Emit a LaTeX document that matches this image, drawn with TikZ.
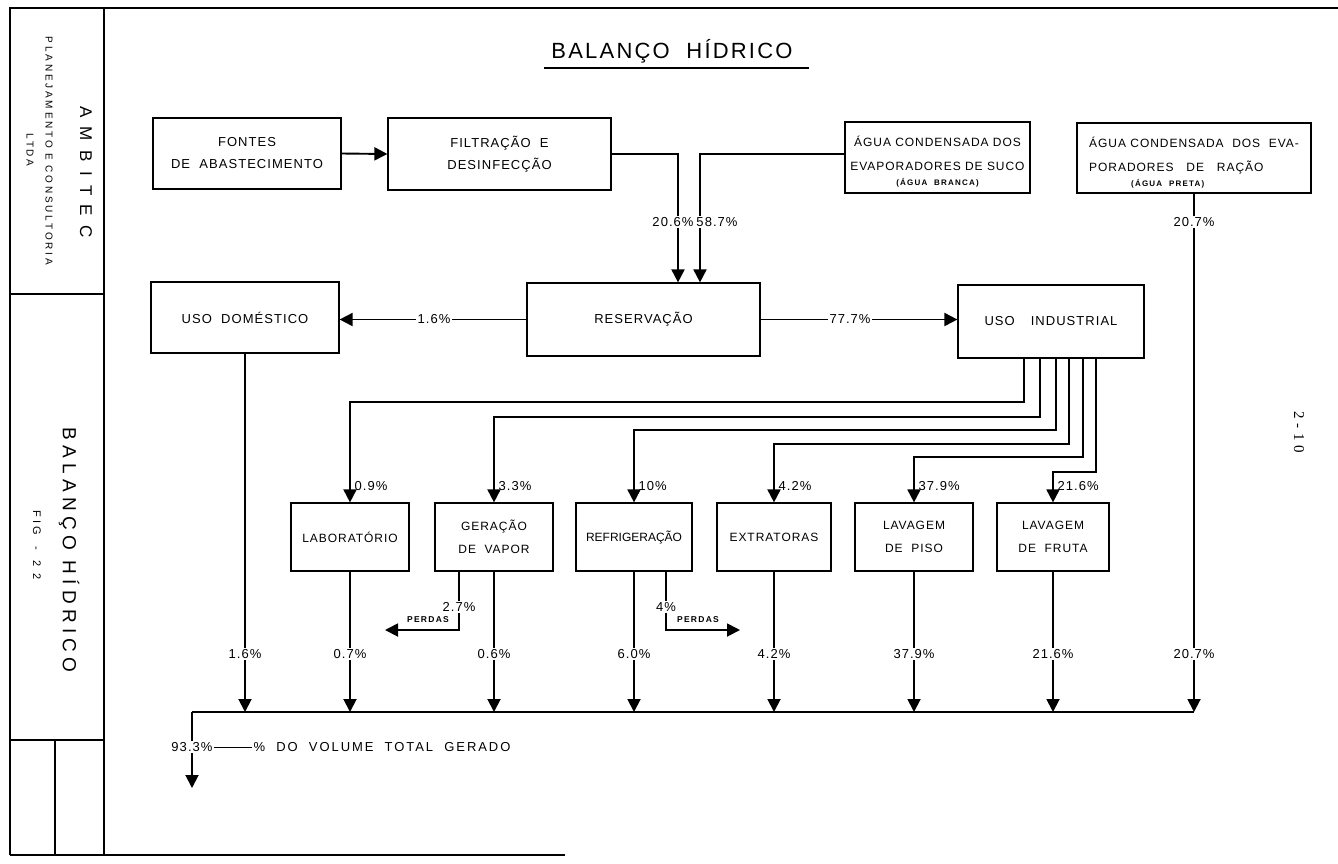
\documentclass[tikz,border=0pt]{standalone}
\usepackage{fontspec}
\setmainfont{Liberation Sans}
\newfontfamily\lsA{Liberation Sans}[LetterSpace=8]
\newfontfamily\lsB{Liberation Sans}[LetterSpace=15]
\newfontfamily\lsC{Liberation Sans}[LetterSpace=28]
\newfontfamily\lsD{Liberation Sans}[LetterSpace=55]
\newfontfamily\lsT{Liberation Sans}[LetterSpace=10]
\newfontfamily\serifF{Liberation Serif}[LetterSpace=30]
\usetikzlibrary{arrows.meta}
\begin{document}
\begin{tikzpicture}[x=1pt,y=-1pt,
  box/.style={draw,line width=1.2pt,inner sep=0pt,align=center,font=\lsA\fontsize{13}{22}\selectfont},
  sbox/.style={box,font=\lsA\fontsize{12}{24}\selectfont},
  lbox/.style={box,minimum height=68,font=\lsA\fontsize{12}{23}\selectfont},
  ln/.style={line width=1.9pt},
  flow/.style={ln,-{Triangle[width=13pt,length=13pt]}},
  pct/.style={font=\lsA\fontsize{13}{15}\selectfont,inner sep=1.5pt},
  pctw/.style={pct,fill=white},
  perd/.style={font=\lsB\bfseries\fontsize{8.5}{9}\selectfont,inner sep=0pt},
  frame/.style={line width=1.4pt}]
\fill[white] (0,0) rectangle (1338,863);
\useasboundingbox (0,0) rectangle (1338,863);

% frame and title block
\draw[frame] (10,855) -- (10,8) -- (1338,8);
\draw[frame] (104,8) -- (104,855);
\draw[frame] (10,294) -- (104,294);
\draw[frame] (10,740) -- (104,740);
\draw[frame] (55,740) -- (55,855);
\draw[frame] (10,855) -- (565,855);
\node[rotate=-90,font=\lsD\fontsize{17}{17}\selectfont] (amb) at (86,172) {AMBITEC};
\node[rotate=-90,font=\lsC\fontsize{10}{10}\selectfont] (plan) at (49,151) {PLANEJAMENTO E CONSULTORIA};
\node[rotate=-90,font=\lsC\fontsize{10}{10}\selectfont] (ltda) at (30,150) {LTDA};
\node[rotate=-90,font=\lsC\fontsize{19}{19}\selectfont] (bh) at (69,550) {BALANÇO HÍDRICO};
\node[rotate=-90,font=\lsC\fontsize{11}{11}\selectfont] (fig) at (37,545) {FIG\quad -\quad 2 2};
\node[rotate=-90,font=\serifF\fontsize{15}{15}\selectfont] (pg) at (1299,432) {2-10};

% title
\node[font=\lsT\fontsize{22}{22}\selectfont] (title) at (672,51) {BALANÇO\ \ HÍDRICO};
\draw[ln] (544,68) -- (809,68);

% boxes
\node[box,minimum width=188,minimum height=71] (fontes) at (247,153.5) {FONTES\\DE\ \ ABASTECIMENTO};
\node[box,minimum width=223,minimum height=72] (filtr) at (499.5,154) {FILTRAÇÃO\ \ E\\DESINFECÇÃO};
\node[sbox,minimum width=185,minimum height=71] (branca) at (937.5,157.5) {\rule{0pt}{19pt}ÁGUA\ CONDENSADA DOS\\EVAPORADORES DE SUCO\\[-9pt]{\lsB\bfseries\fontsize{8}{8}\selectfont (ÁGUA\ \ BRANCA)}};
\node[sbox,align=left,minimum width=234,minimum height=70] (preta) at (1194,158) {\rule{0pt}{19pt}ÁGUA\ CONDENSADA\ \ DOS\ \ EVA-\\PORADORES\ \ \ DE\ \ \ RAÇÃO\\[-9pt]\hspace*{42pt}{\lsB\bfseries\fontsize{8}{8}\selectfont (ÁGUA\ \ PRETA)}};
\node[box,minimum width=188,minimum height=71] (domes) at (245,317.5) {USO\ \ DOMÉSTICO};
\node[box,minimum width=233,minimum height=73] (reserv) at (643.5,319.5) {RESERVAÇÃO};
\node[box,minimum width=186,minimum height=73] (indus) at (1051,321.5) {USO\hspace{16pt}INDUSTRIAL};
\node[lbox,minimum width=118] (lab) at (350,537) {LABORATÓRIO};
\node[lbox,minimum width=118] (gera) at (494,537) {GERAÇÃO\\DE\ \ VAPOR};
\node[lbox,minimum width=116,font=\fontsize{12}{23}\selectfont] (refr) at (634,537) {REFRIGERAÇÃO};
\node[lbox,minimum width=114] (extr) at (774,537) {EXTRATORAS};
\node[lbox,minimum width=118] (piso) at (914,537) {LAVAGEM\\DE\ \ PISO};
\node[lbox,minimum width=112] (fruta) at (1053,537) {LAVAGEM\\DE\ \ FRUTA};

% helper coordinates
\coordinate (j1) at (678,0); \coordinate (j2) at (700,0);
\coordinate (v1) at (1024,0); \coordinate (v2) at (1040,0); \coordinate (v3) at (1056,0);
\coordinate (v4) at (1069,0); \coordinate (v5) at (1083,0); \coordinate (v6) at (1096,0);
\coordinate (h1) at (0,402); \coordinate (h2) at (0,417); \coordinate (h3) at (0,430);
\coordinate (h4) at (0,444); \coordinate (h5) at (0,457); \coordinate (h6) at (0,472);
\coordinate (lbl) at (0,486);
\coordinate (lb) at (0,654);
\coordinate (ml) at (0,712);
\coordinate (mlL) at (192,712);
\coordinate (outc) at (192,788);
\coordinate (gp) at (459,0); \coordinate (rp) at (666,0);
\coordinate (pL) at (385,630); \coordinate (pR) at (740,630);

% top flows
\draw[flow] (fontes.east) -- (filtr.west);
\draw[flow] (filtr.east) -| (j1 |- reserv.north);
\draw[flow] (branca.west |- filtr.east) -| (j2 |- reserv.north);
\node[pctw] (p206) at (673,222) {20.6\%};
\node[pctw] (p587) at (717,222) {58.7\%};

\draw[flow] (reserv.west) -- (reserv.west -| domes.east);
\node[pctw] (p16a) at (434,319.5) {1.6\%};
\draw[flow] (reserv.east) -- (reserv.east -| indus.west);
\node[pctw] (p777) at (850,319.5) {77.7\%};

% industrial branches
\draw[flow] (v1 |- indus.south) |- (h1 -| lab.north) -- (lab.north);
\draw[flow] (v2 |- indus.south) |- (h2 -| gera.north) -- (gera.north);
\draw[flow] (v3 |- indus.south) |- (h3 -| refr.north) -- (refr.north);
\draw[flow] (v4 |- indus.south) |- (h4 -| extr.north) -- (extr.north);
\draw[flow] (v5 |- indus.south) |- (h5 -| piso.north) -- (piso.north);
\draw[flow] (v6 |- indus.south) |- (h6 -| fruta.north) -- (fruta.north);
\node[pct,anchor=west] (i1) at ([xshift=3pt]lbl -| lab.north) {0.9\%};
\node[pct,anchor=west] (i2) at ([xshift=3pt]lbl -| gera.north) {3.3\%};
\node[pct,anchor=west] (i3) at ([xshift=3pt]lbl -| refr.north) {10\%};
\node[pct,anchor=west] (i4) at ([xshift=3pt]lbl -| extr.north) {4.2\%};
\node[pct,anchor=west] (i5) at ([xshift=3pt]lbl -| piso.north) {37.9\%};
\node[pct,anchor=west] (i6) at ([xshift=3pt]lbl -| fruta.north) {21.6\%};

% losses
\draw[flow] (gp |- gera.south) |- (pL);
\draw[flow] (rp |- refr.south) |- (pR);
\node[pctw] (l27) at (459,607) {2.7\%};
\node[pctw] (l4) at (666,607) {4\%};
\node[perd] (pd1) at (428,620) {PERDAS};
\node[perd] (pd2) at (698,620) {PERDAS};

% outputs to collector
\draw[flow] (domes.south) -- (domes.south |- ml);
\draw[flow] (lab.south) -- (lab.south |- ml);
\draw[flow] (gera.south) -- (gera.south |- ml);
\draw[flow] (refr.south) -- (refr.south |- ml);
\draw[flow] (extr.south) -- (extr.south |- ml);
\draw[flow] (piso.south) -- (piso.south |- ml);
\draw[flow] (fruta.south) -- (fruta.south |- ml);
\draw[flow] (preta.south) -- (preta.south |- ml);
\node[pctw] (o1) at (domes.south |- lb) {1.6\%};
\node[pctw] (o2) at (lab.south |- lb) {0.7\%};
\node[pctw] (o3) at (gera.south |- lb) {0.6\%};
\node[pctw] (o4) at (refr.south |- lb) {6.0\%};
\node[pctw] (o5) at (extr.south |- lb) {4.2\%};
\node[pctw] (o6) at (piso.south |- lb) {37.9\%};
\node[pctw] (o7) at (fruta.south |- lb) {21.6\%};
\node[pctw] (o8) at (preta.south |- lb) {20.7\%};
\node[pctw] (o9) at (1194,222) {20.7\%};

% collector
\draw[ln] (mlL) -- (preta.south |- ml);
\draw[flow] (mlL) -- (outc);
\node[pctw] (tot) at (192,747) {93.3\%};
\node[pct,anchor=west,font=\lsB\fontsize{13}{15}\selectfont] (leg) at (252,747) {\%\ \ DO\ \ VOLUME\ \ TOTAL\ \ GERADO};
\draw[line width=1pt] (tot.east) -- (leg.west);
\end{tikzpicture}
\end{document}
